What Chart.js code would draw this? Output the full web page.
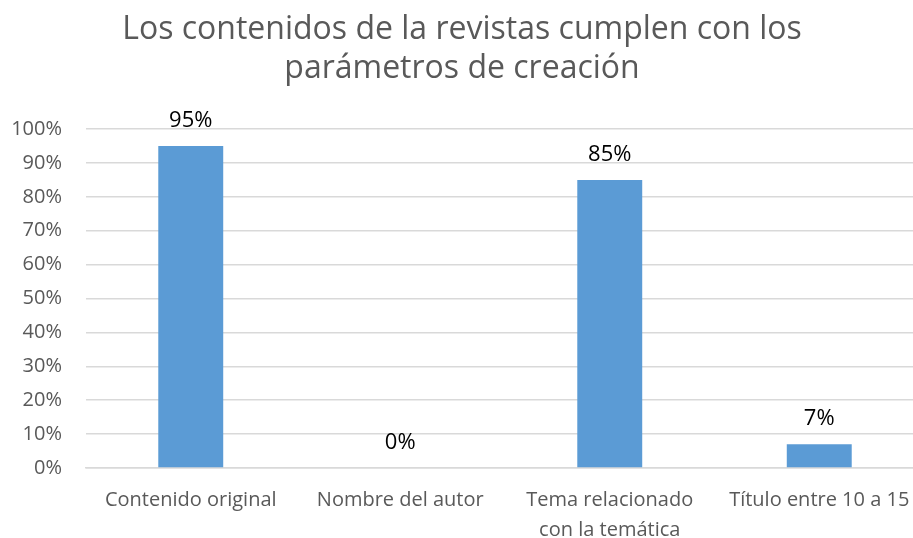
<!DOCTYPE html>
<html>
<head>
<meta charset="utf-8">
<script src="https://cdn.jsdelivr.net/npm/chart.js@4.4.0/dist/chart.umd.min.js"></script>
<style>
  html, body { margin: 0; padding: 0; background: #fff; overflow: hidden; }
  #wrap { width: 935px; height: 538px; }
</style>
</head>
<body>
<div id="wrap"><canvas id="chart" width="935" height="538"></canvas></div>
<script>
// datos del gráfico
const categorias = [
    "Contenido original",
    "Nombre del autor",
    ["Tema relacionado", "con la temática"],
    "Título entre 10 a 15",
];
const porcentajes = [95, 0, 85, 7];
const tituloLineas = [
    "Los contenidos de la revistas cumplen con los",
    "parámetros de creación",
];

const fuente = "'Open Sans', sans-serif";

// etiquetas de valor encima de cada barra
const etiquetasValor = {
    id: "etiquetasValor",
    afterDatasetsDraw(chart) {
        const ctx = chart.ctx;
        const meta = chart.getDatasetMeta(0);
        ctx.save();
        ctx.font = "22px " + fuente;
        ctx.fillStyle = "#000";
        ctx.textAlign = "center";
        ctx.textBaseline = "alphabetic";
        meta.data.forEach((bar, i) => {
            ctx.fillText(porcentajes[i] + "%", bar.x, bar.y - 19);
        });
        ctx.restore();
    },
};

new Chart(document.getElementById("chart"), {
    type: "bar",
    data: {
        labels: categorias,
        datasets: [
            {
                data: porcentajes,
                backgroundColor: "#5B9BD5",
                borderWidth: 0,
                barPercentage: 0.31,
                categoryPercentage: 1,
            },
        ],
    },
    options: {
        responsive: false,
        animation: false,
        devicePixelRatio: 1,
        layout: { padding: { left: 0, right: 11, top: 0, bottom: 0 } },
        scales: {
            y: {
                min: 0,
                max: 100,
                ticks: {
                    stepSize: 10,
                    padding: 24,
                    color: "#595959",
                    font: { family: fuente, size: 20 },
                    callback: (v) => v + "%",
                },
                grid: { color: "#D9D9D9", lineWidth: 1.5, drawTicks: false },
                border: { display: false },
                afterFit(scale) {
                    scale.width = 86;
                },
            },
            x: {
                ticks: {
                    padding: 17,
                    color: "#595959",
                    font: { family: fuente, size: 20, lineHeight: 1.5 },
                    maxRotation: 0,
                    autoSkip: false,
                },
                grid: { display: false, drawTicks: false },
                border: { color: "#D9D9D9", width: 1.5 },
                afterFit(scale) {
                    scale.height = 70;
                },
            },
        },
        plugins: {
            legend: { display: false },
            tooltip: { enabled: false },
            title: {
                display: true,
                text: tituloLineas,
                color: "#595959",
                font: { family: fuente, size: 32, weight: "normal", lineHeight: 1.22 },
                padding: { top: 10, bottom: 41 },
            },
        },
    },
    plugins: [etiquetasValor],
});
</script>
</body>
</html>
